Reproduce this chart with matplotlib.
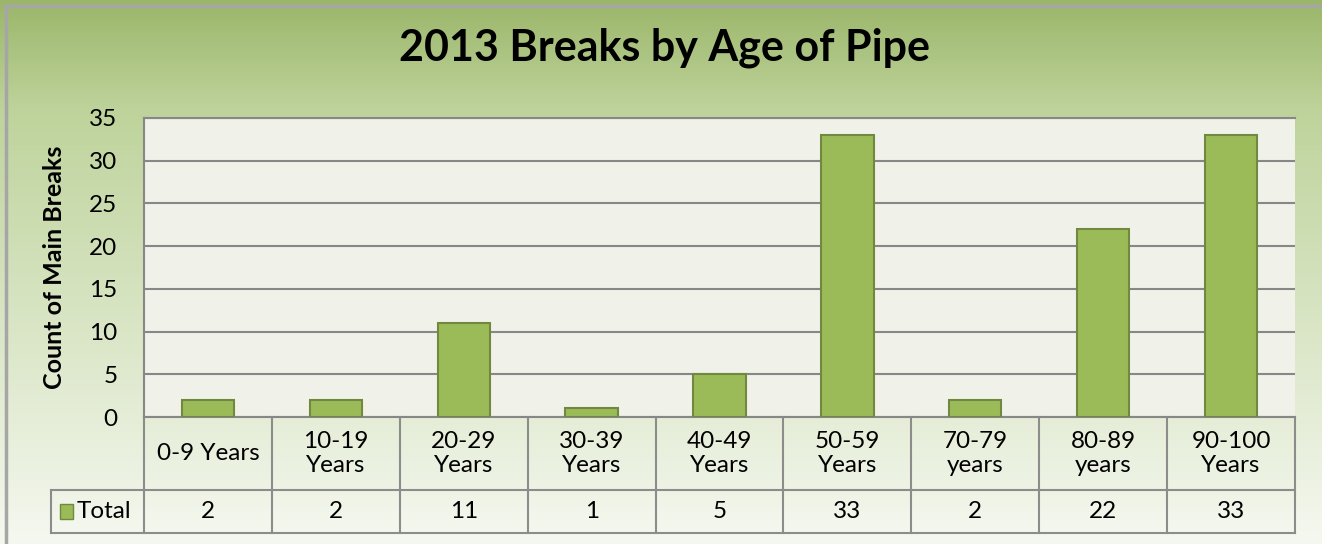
import numpy as np
import matplotlib
matplotlib.use("Agg")
import matplotlib.pyplot as plt
from matplotlib.patches import Rectangle
from matplotlib.lines import Line2D
import matplotlib.transforms as mtransforms

categories = ["0-9 Years", "10-19\nYears", "20-29\nYears", "30-39\nYears", "40-49\nYears",
              "50-59\nYears", "70-79\nyears", "80-89\nyears", "90-100\nYears"]
totals = [2, 2, 11, 1, 5, 33, 2, 22, 33]
yticks = [0, 5, 10, 15, 20, 25, 30, 35]
title = "2013 Breaks by Age of Pipe"
ylabel = "Count of Main Breaks"
series_name = "Total"

plt.rcParams['font.family'] = ['Lato', 'DejaVu Sans']

W, H = 1322, 544
fig = plt.figure(figsize=(W / 100, H / 100), dpi=100)

# background gradient
bg = fig.add_axes([0, 0, 1, 1], zorder=-10)
top = np.array([155, 182, 106]) / 255
mid = np.array([190, 211, 155]) / 255
bot = np.array([245, 248, 240]) / 255
n = 256
t = np.linspace(0, 1, n)
cols = np.zeros((n, 1, 3))
for i, v in enumerate(t):
    if v < 0.2:
        c = top + (mid - top) * (v / 0.2)
    else:
        c = mid + (bot - mid) * ((v - 0.2) / 0.8)
    cols[i, 0] = c
bg.imshow(cols, aspect='auto', extent=[0, 1, 0, 1], origin='upper')
bg.set_xlim(0, 1); bg.set_ylim(0, 1)
bg.axis('off')
# border (top and left edges only visible in the reference crop)
bg.add_line(Line2D([5 / W, 1], [1 - 6 / H, 1 - 6 / H], color='#A6A6A6', linewidth=2.5,
                   transform=bg.transAxes))
bg.add_line(Line2D([6 / W, 6 / W], [0, 1 - 6 / H], color='#A6A6A6', linewidth=2.5,
                   transform=bg.transAxes))

L, R, T, B = 144, 1295, 118, 417
ax = fig.add_axes([L / W, 1 - B / H, (R - L) / W, (B - T) / H])
ax.set_facecolor('#F0F2EA')
x = np.arange(len(categories))
ax.bar(x, totals, width=0.41, color='#9BBB59', edgecolor='#71893F', linewidth=1.5, zorder=3)
ax.set_xlim(-0.5, len(categories) - 0.5)
ax.set_ylim(0, 35)
ax.set_yticks(yticks)
ax.set_yticklabels([str(v) for v in yticks], fontsize=17.5)
ax.tick_params(axis='y', length=0, pad=19)
ax.set_xticks([])
ax.grid(axis='y', color='#878787', linewidth=1.5, zorder=1)
ax.spines['right'].set_visible(False)
for s in ['top', 'left', 'bottom']:
    ax.spines[s].set_color('#878787'); ax.spines[s].set_linewidth(1.5)
ax.set_ylabel(ylabel, fontsize=18, fontweight='bold', labelpad=17)

fig.suptitle(title, x=0.503, y=1 - 48 / H, va='center', fontsize=31, fontweight='bold')

# data table
h_ax = B - T
y_row1 = -(490 - B) / h_ax
y_row2 = -(533 - B) / h_ax
x_leg = -0.5 - (L - 51) / ((R - L) / len(categories))
trans = mtransforms.blended_transform_factory(ax.transData, ax.transAxes)
lc = '#8C8C8C'
lw = 1.5
def line(xs, ys):
    ax.add_line(Line2D(xs, ys, transform=trans, color=lc, linewidth=lw, clip_on=False))
line([x_leg, len(categories) - 0.5], [y_row1, y_row1])
line([x_leg, len(categories) - 0.5], [y_row2, y_row2])
line([x_leg, x_leg], [y_row1, y_row2])
for b in np.arange(-0.5, len(categories), 1.0):
    line([b, b], [0, y_row2])
for i, (c, v) in enumerate(zip(categories, totals)):
    ax.text(i, y_row1 / 2, c, transform=trans, ha='center', va='center', fontsize=17.5,
            linespacing=1.15, clip_on=False)
    ax.text(i, (y_row1 + y_row2) / 2, str(v), transform=trans, ha='center', va='center',
            fontsize=17.5, clip_on=False)
ax.add_patch(Rectangle((x_leg + 0.07, (y_row1 + y_row2) / 2 - 0.024), 0.1, 0.048,
                       transform=trans, facecolor='#9BBB59', edgecolor='#71893F',
                       linewidth=1, clip_on=False))
ax.text(x_leg + 0.2, (y_row1 + y_row2) / 2, series_name, transform=trans, ha='left',
        va='center', fontsize=17.5, clip_on=False)

fig.savefig('out.png', dpi=100)
